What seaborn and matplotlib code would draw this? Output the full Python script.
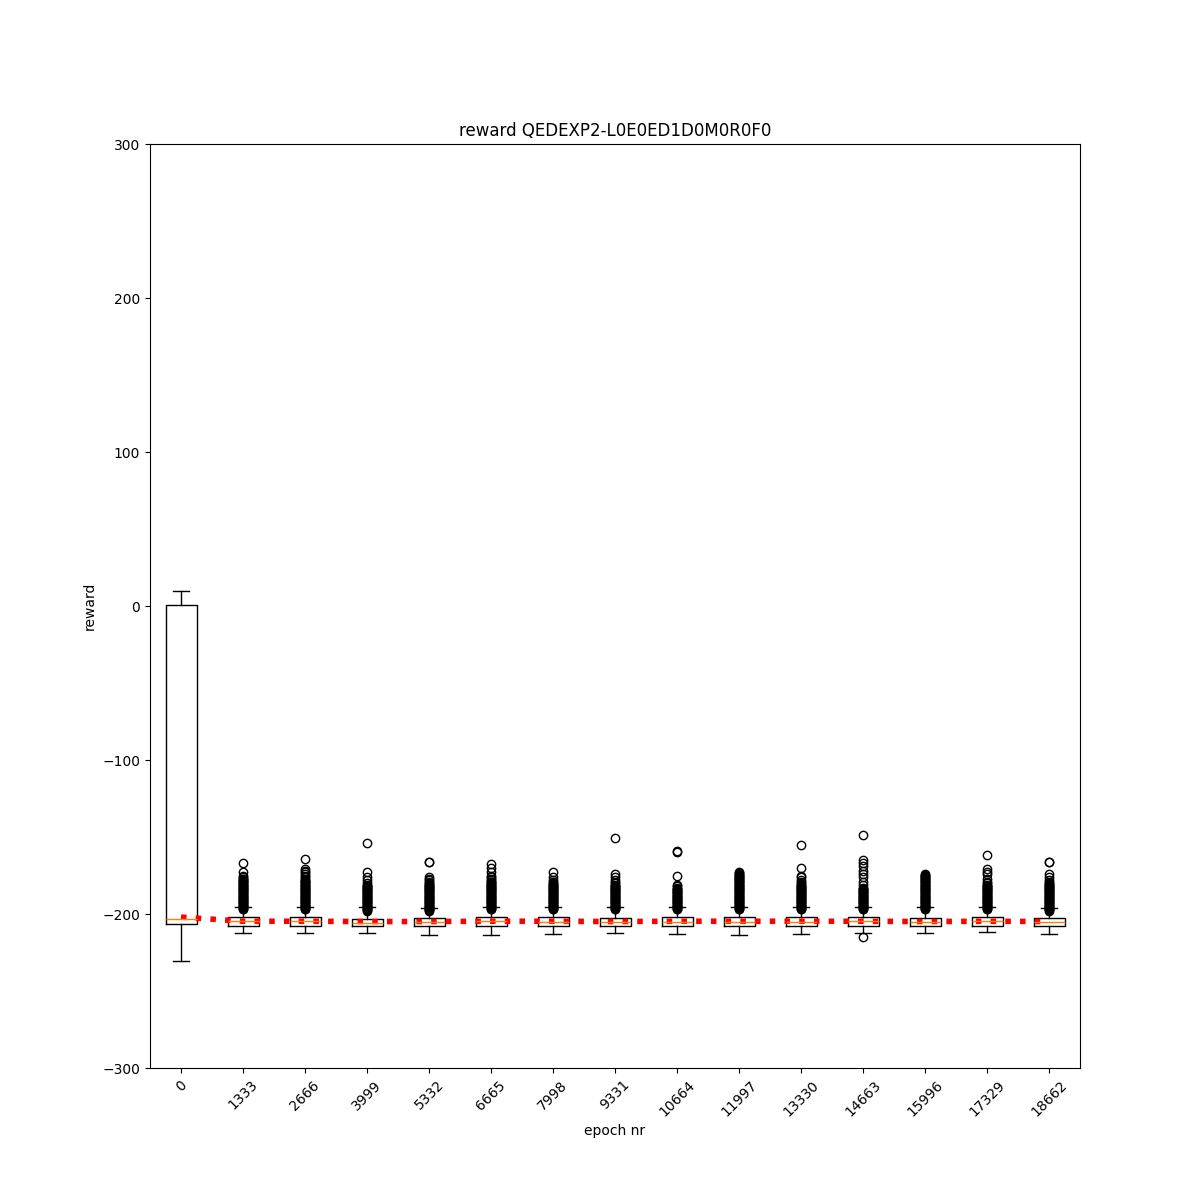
import matplotlib
matplotlib.use("Agg")
import matplotlib.pyplot as plt
import seaborn as sns

# epochs and box statistics
epochs = [0, 1333, 2666, 3999, 5332, 6665, 7998, 9331, 10664, 11997,
          13330, 14663, 15996, 17329, 18662]
medians = [-203, -204.5, -204.5, -206, -205, -204.5, -205, -205, -205, -205,
           -205, -204.5, -205, -204.5, -205]
q1 = [-206.7, -207.6, -207.6, -207.6, -207.6, -207.6, -207.6, -207.6, -207.6,
      -207.6, -207.6, -207.6, -207.6, -207.6, -207.6]
q3 = [0.6, -202.2, -202.2, -203, -202.6, -202.2, -202.2, -202.6, -202.2,
      -202.2, -202.2, -202.2, -202.6, -202.2, -202.6]
whislo = [-230.5, -212.3, -212.3, -212.3, -213.5, -213.5, -213, -212.3, -213,
          -213.5, -213, -212.3, -212.3, -211.5, -213]
whishi = [9.5, -195.3, -195.3, -195.7, -196, -195.3, -195.3, -195.3, -195.3,
          -195.3, -195.3, -195.3, -195.3, -195.3, -196]
means = [-202, -204.7, -204.7, -204.9, -204.9, -204.7, -204.7, -204.9, -204.7,
         -204.7, -204.7, -204.7, -204.9, -204.7, -204.9]
fliers = [
    [],
    [-197, -196.5, -196, -195.5, -195, -194.5, -194, -193.5, -193, -192.5,
     -192, -191.5, -191, -190.5, -190, -189.5, -189, -188.5, -188, -187.5,
     -187, -186.5, -186, -185.5, -185, -184.5, -184, -183.5, -183, -182.5,
     -182, -181.5, -181, -180.5, -180, -179.5, -179, -178.5, -178, -177.5,
     -177, -176, -175, -173, -167],
    [-197, -196.5, -196, -195.5, -195, -194.5, -194, -193.5, -193, -192.5,
     -192, -191.5, -191, -190.5, -190, -189.5, -189, -188.5, -188, -187.5,
     -187, -186.5, -186, -185.5, -185, -184.5, -184, -183.5, -183, -182.5,
     -182, -181.5, -181, -180.5, -180, -179.5, -179, -178.5, -178, -177,
     -176, -175, -174, -173, -172, -171, -164],
    [-198, -197.5, -197, -196.5, -196, -195.5, -195, -194.5, -194, -193.5,
     -193, -192.5, -192, -191.5, -191, -190.5, -190, -189.5, -189, -188.5,
     -188, -187.5, -187, -186.5, -186, -185.5, -185, -184.5, -184, -183.5,
     -183, -182.5, -182, -181.5, -181, -180, -178, -176, -173, -154],
    [-198, -197.5, -197, -196.5, -196, -195.5, -195, -194.5, -194, -193.5,
     -193, -192.5, -192, -191.5, -191, -190.5, -190, -189.5, -189, -188.5,
     -188, -187.5, -187, -186.5, -186, -185.5, -185, -184.5, -184, -183.5,
     -183, -182.5, -182, -181.5, -181, -180.5, -180, -179, -178, -177,
     -176, -166.5, -166],
    [-197, -196.5, -196, -195.5, -195, -194.5, -194, -193.5, -193, -192.5,
     -192, -191.5, -191, -190.5, -190, -189.5, -189, -188.5, -188, -187.5,
     -187, -186.5, -186, -185.5, -185, -184.5, -184, -183.5, -183, -182.5,
     -182, -181.5, -181, -180.5, -180, -179.5, -179, -178, -177, -176,
     -175, -173, -170, -167.5],
    [-197, -196.5, -196, -195.5, -195, -194.5, -194, -193.5, -193, -192.5,
     -192, -191.5, -191, -190.5, -190, -189.5, -189, -188.5, -188, -187.5,
     -187, -186.5, -186, -185.5, -185, -184.5, -184, -183.5, -183, -182.5,
     -182, -181.5, -181, -180.5, -180, -179, -178, -176, -173],
    [-197, -196.5, -196, -195.5, -195, -194.5, -194, -193.5, -193, -192.5,
     -192, -191.5, -191, -190.5, -190, -189.5, -189, -188.5, -188, -187.5,
     -187, -186.5, -186, -185.5, -185, -184.5, -184, -183.5, -183, -182.5,
     -182, -181.5, -181, -180, -179, -178, -176, -174, -150.5],
    [-197, -196.5, -196, -195.5, -195, -194.5, -194, -193.5, -193, -192.5,
     -192, -191.5, -191, -190.5, -190, -189.5, -189, -188.5, -188, -187.5,
     -187, -186.5, -186, -185.5, -185, -184.5, -184, -183.5, -183, -182,
     -181, -175, -160, -159],
    [-197, -196.5, -196, -195.5, -195, -194.5, -194, -193.5, -193, -192.5,
     -192, -191.5, -191, -190.5, -190, -189.5, -189, -188.5, -188, -187.5,
     -187, -186.5, -186, -185.5, -185, -184.5, -184, -183.5, -183, -182.5,
     -182, -181.5, -181, -180.5, -180, -179.5, -179, -178.5, -178, -177.5,
     -177, -176.5, -176, -175.5, -175, -174.5, -174, -173.5, -173],
    [-197, -196.5, -196, -195.5, -195, -194.5, -194, -193.5, -193, -192.5,
     -192, -191.5, -191, -190.5, -190, -189.5, -189, -188.5, -188, -187.5,
     -187, -186.5, -186, -185.5, -185, -184.5, -184, -183.5, -183, -182.5,
     -182, -181.5, -181, -180, -179, -178, -176, -175, -170, -155],
    [-197, -196.5, -196, -195.5, -195, -194.5, -194, -193.5, -193, -192.5,
     -192, -191.5, -191, -190.5, -190, -189.5, -189, -188.5, -188, -187.5,
     -187, -186.5, -186, -185.5, -185, -184.5, -184, -183.5, -183, -181,
     -179, -176, -174, -172, -169, -167, -165, -149, -215],
    [-197, -196.5, -196, -195.5, -195, -194.5, -194, -193.5, -193, -192.5,
     -192, -191.5, -191, -190.5, -190, -189.5, -189, -188.5, -188, -187.5,
     -187, -186.5, -186, -185.5, -185, -184.5, -184, -183.5, -183, -182.5,
     -182, -181.5, -181, -180.5, -180, -179.5, -179, -178.5, -178, -177.5,
     -177, -176.5, -176, -175.5, -175, -174.5, -174],
    [-197, -196.5, -196, -195.5, -195, -194.5, -194, -193.5, -193, -192.5,
     -192, -191.5, -191, -190.5, -190, -189.5, -189, -188.5, -188, -187.5,
     -187, -186.5, -186, -185.5, -185, -184.5, -184, -183.5, -183, -182.5,
     -182, -181.5, -181, -180, -179, -177, -174, -173, -171, -162],
    [-198, -197.5, -197, -196.5, -196, -195.5, -195, -194.5, -194, -193.5,
     -193, -192.5, -192, -191.5, -191, -190.5, -190, -189.5, -189, -188.5,
     -188, -187.5, -187, -186.5, -186, -185.5, -185, -184.5, -184, -183.5,
     -183, -182.5, -182, -181.5, -181, -180.5, -180, -179, -178, -176,
     -174, -166.5, -166],
]

positions = list(range(1, len(epochs) + 1))

stats = []
for i in range(len(epochs)):
    stats.append({
        "med": medians[i], "q1": q1[i], "q3": q3[i],
        "whislo": whislo[i], "whishi": whishi[i],
        "mean": means[i], "fliers": fliers[i],
    })

fig, ax = plt.subplots(figsize=(12, 12), dpi=100)

ax.bxp(stats, positions=positions, showfliers=True, showmeans=False)

# mean line
sns.lineplot(x=positions, y=means, ax=ax, color="red", linestyle=":",
             linewidth=4)

ax.set_xlim(0.5, len(epochs) + 0.5)
ax.set_ylim(-300, 300)
ax.set_xticks(positions)
ax.set_xticklabels([str(e) for e in epochs], rotation=45)
ax.set_xlabel("epoch nr")
ax.set_ylabel("reward")
ax.set_title("reward QEDEXP2-L0E0ED1D0M0R0F0")

plt.savefig("out.png", dpi=100)
